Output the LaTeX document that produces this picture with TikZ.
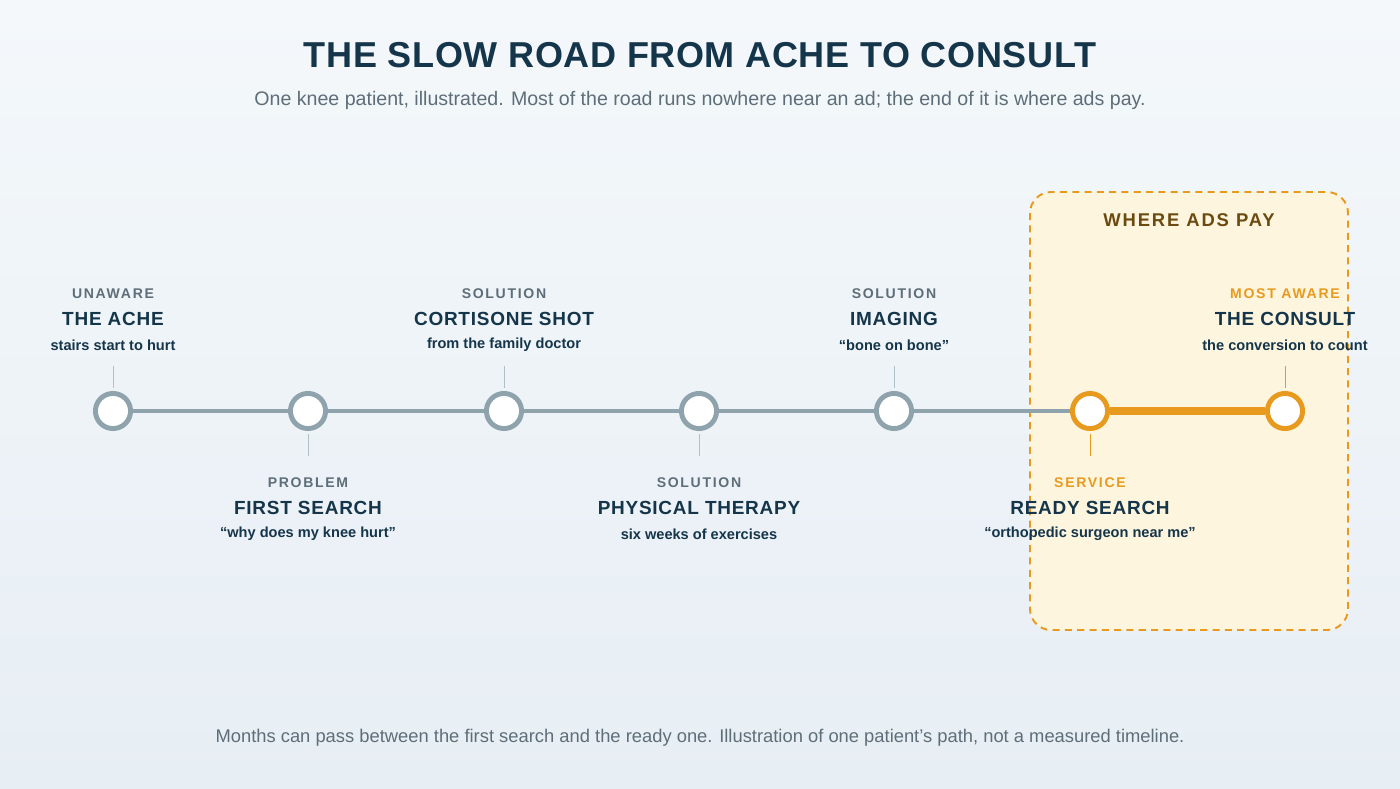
\documentclass[tikz,border=0pt]{standalone}
\usepackage{fontspec}
\setmainfont{Liberation Sans}
\usetikzlibrary{positioning}
\definecolor{ink}{HTML}{15354A}
\definecolor{muted}{HTML}{5E6E78}
\definecolor{track}{HTML}{8FA3AD}
\definecolor{amber}{HTML}{E89A1F}
\definecolor{paybg}{HTML}{FDF5DE}
\definecolor{paytxt}{HTML}{6B4A10}
\definecolor{bgtop}{HTML}{F4F8FB}
\definecolor{bgbot}{HTML}{E7EEF4}
\tikzset{
	every path/.style={line width=2.8pt},
	stage/.style={
		draw=track,
		fill=white,
		circle,
		minimum size=20pt,
		inner sep=0pt,
	},
	hot/.style={draw=amber},
	tag/.style={
		font=\fontsize{8}{9}\selectfont\bfseries\addfontfeature{LetterSpace=12},
		text=muted,
	},
	head/.style={
		font=\fontsize{10.8}{12}\selectfont\bfseries\addfontfeature{LetterSpace=4},
		text=ink,
	},
	note/.style={
		font=\fontsize{8.3}{9}\selectfont\bfseries,
		text=ink,
	},
	tick/.style={draw=track!70, line width=0.5pt},
}
\begin{document}
\begin{tikzpicture}[x=0.02cm,y=-0.02cm]
		\shade[top color=bgtop, bottom color=bgbot, line width=0pt] (0,0) rectangle (1400,788);
		\useasboundingbox (0,0) rectangle (1400,788);

		% title block
		\node[font=\fontsize{20.5}{24}\selectfont\bfseries\addfontfeature{LetterSpace=1.8}, text=ink] (title) at (700,55) {THE SLOW ROAD FROM ACHE TO CONSULT};
		\node[font=\fontsize{11.15}{13}\selectfont, text=muted] (sub) at (700,100) {One knee patient, illustrated. Most of the road runs nowhere near an ad; the end of it is where ads pay.};

		% where ads pay
		\draw[amber, line width=1.1pt, dash pattern=on 4pt off 3pt, fill=paybg, rounded corners=12pt] (1030,192) rectangle (1348,630);
		\node[font=\fontsize{10.5}{12}\selectfont\bfseries\addfontfeature{LetterSpace=10}, text=paytxt] (pay) at (1189,220) {WHERE ADS PAY};

		% stations
		\node[stage] (S1) at (113,411) {};
		\node[stage] (S2) at (308,411) {};
		\node[stage] (S3) at (504,411) {};
		\node[stage] (S4) at (699,411) {};
		\node[stage] (S5) at (894,411) {};
		\node[stage, hot] (S6) at (1090,411) {};
		\node[stage, hot] (S7) at (1285,411) {};

		\draw[track] (S1) -- (S2);
		\draw[track] (S2) -- (S3);
		\draw[track] (S3) -- (S4);
		\draw[track] (S4) -- (S5);
		\draw[track] (S5) -- (S6);
		\draw[amber, line width=4pt] (S6) -- (S7);

		% labels above
		\node[tag] (T1) at (113,294) {UNAWARE};
		\node[head] (H1) at (113,319) {THE ACHE};
		\node[note] (N1) at (113,345) {stairs start to hurt};
		\node[tag] (T3) at (504,294) {SOLUTION};
		\node[head] (H3) at (504,319) {CORTISONE SHOT};
		\node[note] (N3) at (504,345) {from the family doctor};
		\node[tag] (T5) at (894,294) {SOLUTION};
		\node[head] (H5) at (894,319) {IMAGING};
		\node[note] (N5) at (894,345) {“bone on bone”};
		\node[tag, text=amber] (T7) at (1285,294) {MOST AWARE};
		\node[head] (H7) at (1285,319) {THE CONSULT};
		\node[note] (N7) at (1285,345) {the conversion to count};

		% labels below
		\node[tag] (T2) at (308,483) {PROBLEM};
		\node[head] (H2) at (308,508) {FIRST SEARCH};
		\node[note] (N2) at (308,534) {“why does my knee hurt”};
		\node[tag] (T4) at (699,483) {SOLUTION};
		\node[head] (H4) at (699,508) {PHYSICAL THERAPY};
		\node[note] (N4) at (699,534) {six weeks of exercises};
		\node[tag, text=amber] (T6) at (1090,483) {SERVICE};
		\node[head] (H6) at (1090,508) {READY SEARCH};
		\node[note] (N6) at (1090,534) {“orthopedic surgeon near me”};

		% ticks
		\draw[tick] (S1.north) ++(0,-3) -- ++(0,-22);
		\draw[tick] (S3.north) ++(0,-3) -- ++(0,-22);
		\draw[tick] (S5.north) ++(0,-3) -- ++(0,-22);
		\draw[tick, draw=amber] (S7.north) ++(0,-3) -- ++(0,-22);
		\draw[tick] (S2.south) ++(0,3) -- ++(0,22);
		\draw[tick] (S4.south) ++(0,3) -- ++(0,22);
		\draw[tick, draw=amber] (S6.south) ++(0,3) -- ++(0,22);

		\node[font=\fontsize{10.45}{12}\selectfont, text=muted] (foot) at (700,738) {Months can pass between the first search and the ready one. Illustration of one patient's path, not a measured timeline.};
	\end{tikzpicture}
\end{document}
